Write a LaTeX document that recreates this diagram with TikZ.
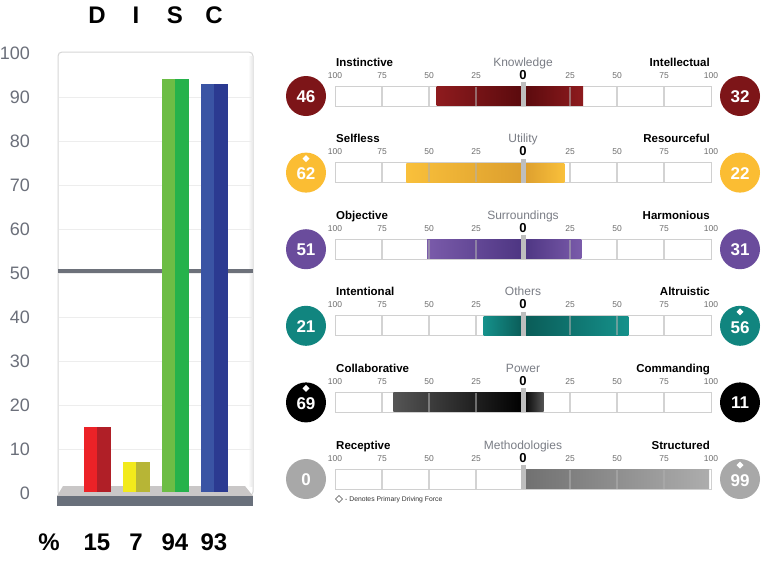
\documentclass[tikz,border=0pt]{standalone}
\usepackage{fontspec}
\setmainfont{Liberation Sans}
\usetikzlibrary{shapes.geometric}
\definecolor{axisgrey}{HTML}{6B6F7A}
\definecolor{framegrey}{HTML}{D6D6D6}
\definecolor{gridgrey}{HTML}{EDEDED}
\definecolor{fiftyline}{HTML}{6D717A}
\definecolor{platformtop}{HTML}{C9C7C7}
\definecolor{platformside}{HTML}{69707B}
\definecolor{redL}{HTML}{EC2227}
\definecolor{redR}{HTML}{B01F27}
\definecolor{yelL}{HTML}{F2EA1C}
\definecolor{yelR}{HTML}{B7B536}
\definecolor{grnL}{HTML}{6CBD45}
\definecolor{grnR}{HTML}{25B24B}
\definecolor{bluL}{HTML}{3A54A4}
\definecolor{bluR}{HTML}{2B3A91}
\definecolor{midgrey}{HTML}{7A7D85}
\definecolor{scalegrey}{HTML}{6E6E6E}
\definecolor{barborder}{HTML}{D0D0D0}
\definecolor{tickgrey}{HTML}{B0B0B0}
\definecolor{markgrey}{HTML}{BEBEBE}
% row colours: circle, end, centre
\definecolor{c1}{HTML}{7D1518}\definecolor{e1}{HTML}{8E1B1E}\definecolor{d1}{HTML}{5A0A0D}
\definecolor{c2}{HTML}{FBBD33}\definecolor{e2}{HTML}{F9C03B}\definecolor{d2}{HTML}{DC9E2E}
\definecolor{c3}{HTML}{6A4C9C}\definecolor{e3}{HTML}{7A5BAA}\definecolor{d3}{HTML}{4D3582}
\definecolor{c4}{HTML}{11857F}\definecolor{e4}{HTML}{15918B}\definecolor{d4}{HTML}{0A5B57}
\definecolor{c5}{HTML}{000000}\definecolor{e5}{HTML}{555555}\definecolor{d5}{HTML}{000000}
\definecolor{c6}{HTML}{A8A8A8}\definecolor{e6}{HTML}{ADADAD}\definecolor{d6}{HTML}{707070}
\begin{document}
\begin{tikzpicture}[x=1pt,y=-1pt,
  big/.style={font=\fontsize{24}{26}\selectfont\bfseries, anchor=base, inner sep=0},
  axislab/.style={font=\fontsize{18}{20}\selectfont, text=axisgrey, anchor=base east, inner sep=0},
  rowlab/.style={font=\fontsize{11.5}{13}\selectfont\bfseries, inner sep=0},
  midlab/.style={font=\fontsize{12}{13}\selectfont, text=midgrey, anchor=base, inner sep=0},
  scalelab/.style={font=\fontsize{8.5}{9}\selectfont, text=scalegrey, anchor=base, inner sep=0},
  zerolab/.style={font=\fontsize{13}{14}\selectfont\bfseries, anchor=base, inner sep=0},
  valcircle/.style={circle, minimum size=40pt, inner sep=0},
  valnum/.style={font=\fontsize{17}{18}\selectfont\bfseries, text=white, inner sep=0},
  legendlab/.style={font=\fontsize{6.8}{7}\selectfont, text=black!80, anchor=base west, inner sep=0}
]
\useasboundingbox (0,0) rectangle (761,563);
\fill[white] (0,0) rectangle (761,563);

% ---------- DISC chart ----------
\node[big] (hD) at (97,23) {D};
\node[big] (hI) at (136,23) {I};
\node[big] (hS) at (175,23) {S};
\node[big] (hC) at (214,23) {C};

\draw[framegrey, line width=1pt, rounded corners=4pt, fill=white] (58,52) rectangle (253,496);
\shade[left color=white, right color=black!9] (248,56) rectangle (252.5,486);
\foreach \v in {10,20,...,90}
  \draw[gridgrey, line width=0.8pt] (58.5,493-4.4*\v) -- (252.5,493-4.4*\v);
\foreach \v in {0,10,...,100}
  \node[axislab] (ax\v) at (30,499.4-4.4*\v) {\v};
\draw[line width=3.5pt, fiftyline] (58,271) -- (253,271);

\fill[platformtop] (63,486) -- (245,486) -- (253,496) -- (57,496) -- cycle;
\fill[platformside] (57,496) rectangle (253,506);

\foreach \c/\v/\lc/\rc in {97/15/redL/redR, 136/7/yelL/yelR, 175/94/grnL/grnR, 214/93/bluL/bluR}{
  \fill[\lc] (\c-13.5,492) rectangle (\c,493-4.4*\v);
  \fill[\rc] (\c,492) rectangle (\c+13.5,493-4.4*\v);
}

\node[big] (pc) at (49,550) {\%};
\node[big] (pD) at (97,550) {15};
\node[big] (pI) at (136,550) {7};
\node[big] (pS) at (175,550) {94};
\node[big] (pC) at (214,550) {93};

% ---------- value bars ----------
\foreach \i/\yt/\ll/\ml/\rl/\lv/\rv/\ld/\rd in {
  1/86/Instinctive/Knowledge/Intellectual/46/32/0/0,
  2/162.6/Selfless/Utility/Resourceful/62/22/1/0,
  3/239.2/Objective/Surroundings/Harmonious/51/31/0/0,
  4/315.8/Intentional/Others/Altruistic/21/56/0/1,
  5/392.4/Collaborative/Power/Commanding/69/11/1/0,
  6/469/Receptive/Methodologies/Structured/0/99/0/1}{
  \node[rowlab, anchor=base west] (ll\i) at (336,\yt-20) {\ll};
  \node[midlab] (ml\i) at (523,\yt-20) {\ml};
  \node[rowlab, anchor=base east] (rl\i) at (710,\yt-20) {\rl};
  \foreach \o/\t in {-188/100,-141/75,-94/50,-47/25,47/25,94/50,141/75,188/100}
    \node[scalelab] (s\i\o) at (523+\o,\yt-8) {\t};
  \node[zerolab] (z\i) at (523,\yt-7) {0};
  \draw[barborder, line width=1pt, fill=white] (335,\yt) rectangle (711,\yt+20);
  \pgfmathsetmacro\xl{523-1.88*\lv}
  \pgfmathsetmacro\xr{523+1.88*\rv}
  \ifnum\lv>0 \shade[left color=e\i, right color=d\i] (\xl,\yt+0.5) rectangle (523,\yt+19.5); \fi
  \ifnum\rv>0 \shade[left color=d\i, right color=e\i] (523,\yt+0.5) rectangle (\xr,\yt+19.5); \fi
  \foreach \o in {-141,-94,-47,47,94,141}
    \draw[tickgrey, opacity=0.55, line width=1.4pt] (523+\o,\yt+0.5) -- (523+\o,\yt+19.5);
  \fill[markgrey] (520.8,\yt-4) rectangle (525.6,\yt+20);
  % circles
  \node[valcircle, fill=c\i] (lc\i) at (306,\yt+10) {};
  \node[valcircle, fill=c\i] (rc\i) at (740,\yt+10) {};
  \ifnum\ld=1
    \node[valnum] (lv\i) at (306,\yt+11.5) {\lv};
    \fill[white] (306,\yt-7.5) -- (309.5,\yt-4) -- (306,\yt-0.5) -- (302.5,\yt-4) -- cycle;
  \else
    \node[valnum] (lv\i) at (306,\yt+10.5) {\lv};
  \fi
  \ifnum\rd=1
    \node[valnum] (rv\i) at (740,\yt+11.5) {\rv};
    \fill[white] (740,\yt-7.5) -- (743.5,\yt-4) -- (740,\yt-0.5) -- (736.5,\yt-4) -- cycle;
  \else
    \node[valnum] (rv\i) at (740,\yt+10.5) {\rv};
  \fi
}

% legend
\draw[black!70, line width=0.6pt] (339,495.5) -- (342.5,499) -- (339,502.5) -- (335.5,499) -- cycle;
\node[legendlab] (legend) at (345,501.5) {- Denotes Primary Driving Force};
\end{tikzpicture}
\end{document}
